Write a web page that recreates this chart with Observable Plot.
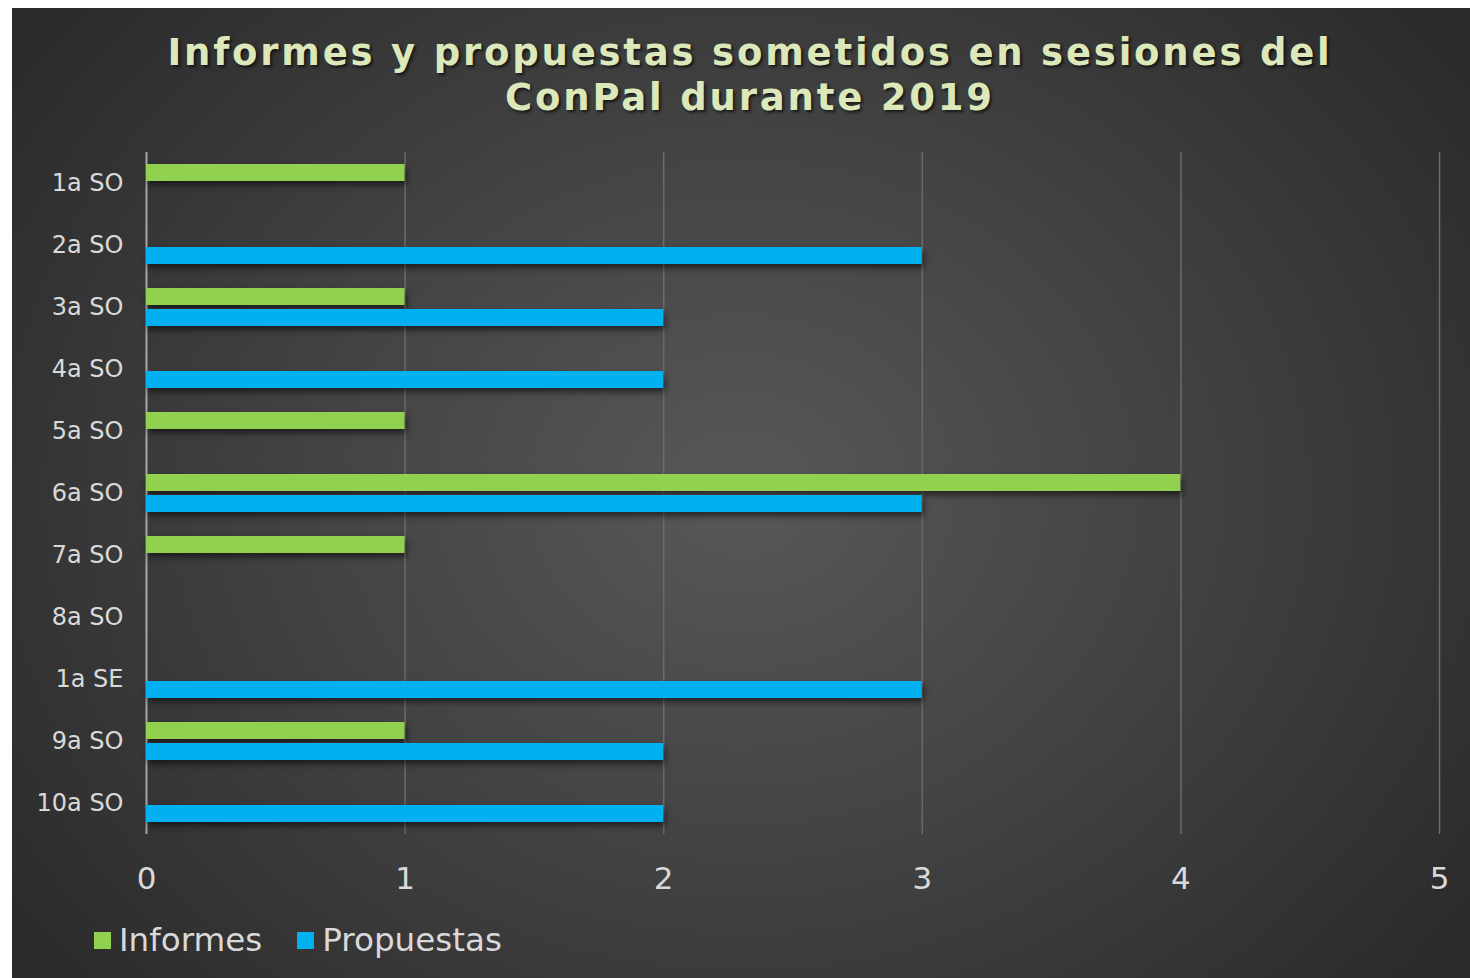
<!DOCTYPE html>
<html>
<head>
<meta charset="utf-8">
<script src="https://cdn.jsdelivr.net/npm/d3@7"></script>
<script src="https://cdn.jsdelivr.net/npm/@observablehq/plot@0.6"></script>
<style>
  html, body { margin: 0; padding: 0; background: #ffffff; }
  #chart {
    position: absolute; left: 12px; top: 8px; width: 1458px; height: 970px;
    background: radial-gradient(ellipse 62% 78% at 50% 50%, #585858 0%, #444444 45%, #2a2a2a 100%);
    overflow: hidden;
    font-family: "DejaVu Sans", Verdana, sans-serif;
  }
  #title {
    position: absolute; left: 9px; top: 22px; width: 1458px; text-align: center;
    font-size: 37px; font-weight: bold; line-height: 45px; letter-spacing: 2.8px;
    color: #dce7ba; text-shadow: 2px 2px 3px rgba(0,0,0,0.65);
  }
  #plot { position: absolute; left: 0; top: 132px; }
  #plot svg g[aria-label="bar"] { filter: drop-shadow(2px 4px 3px rgba(0,0,0,0.55)); }
  #plot svg [aria-label^="x-axis"] text { font-size: 31px; }
  #legend {
    position: absolute; left: 82px; top: 912px; height: 40px;
    display: flex; align-items: center; font-size: 32.6px; color: #d9d9d9;
  }
  .item { display: flex; align-items: center; margin-right: 35px; }
  .sw { width: 17px; height: 17px; margin-right: 8px; }
</style>
</head>
<body>
<div id="chart">
  <div id="title">Informes y propuestas sometidos en sesiones del<br>ConPal durante 2019</div>
  <div id="plot"></div>
  <div id="legend"></div>
</div>
<script>
const sessions = ["1a SO", "2a SO", "3a SO", "4a SO", "5a SO", "6a SO", "7a SO", "8a SO", "1a SE", "9a SO", "10a SO"];
const series = ["Informes", "Propuestas"];
const colors = ["#92d050", "#00b0f0"];
const informes = [1, 0, 1, 0, 1, 4, 1, 0, 0, 1, 0];
const propuestas = [0, 3, 2, 2, 0, 3, 0, 0, 3, 2, 2];
const xTicks = [0, 1, 2, 3, 4, 5];

const data = [];
sessions.forEach((s, i) => {
  data.push({session: s, serie: series[0], value: informes[i]});
  data.push({session: s, serie: series[1], value: propuestas[i]});
});

const chart = Plot.plot({
  width: 1458,
  height: 784,
  marginTop: 12,
  marginBottom: 90,
  marginLeft: 134,
  marginRight: 31,
  style: {background: "transparent", color: "#d9d9d9", fontSize: "24px", fontFamily: "DejaVu Sans, Verdana, sans-serif", overflow: "visible"},
  facet: {data: data, y: "session"},
  fy: {domain: sessions, padding: 0, label: null, tickSize: 0, tickPadding: 23, axis: "left"},
  y: {domain: series, paddingInner: 0.18, paddingOuter: 0.5, axis: null},
  x: {domain: [0, 5], ticks: xTicks, tickSize: 0, tickPadding: 32, label: null, tickFormat: d3.format("d")},
  color: {domain: series, range: colors},
  marks: [
    Plot.ruleX(xTicks.slice(1), {stroke: "#6b6b6b", strokeWidth: 1.5}),
    Plot.ruleX([0], {stroke: "#a6a6a6", strokeWidth: 2}),
    Plot.barX(data, {x: "value", y: "serie", fill: "serie"})
  ]
});
document.getElementById("plot").appendChild(chart);

const legend = document.getElementById("legend");
series.forEach((s, i) => {
  const it = document.createElement("div");
  it.className = "item";
  const sw = document.createElement("div");
  sw.className = "sw";
  sw.style.background = colors[i];
  const t = document.createElement("span");
  t.textContent = s;
  it.appendChild(sw); it.appendChild(t);
  legend.appendChild(it);
});
</script>
</body>
</html>
